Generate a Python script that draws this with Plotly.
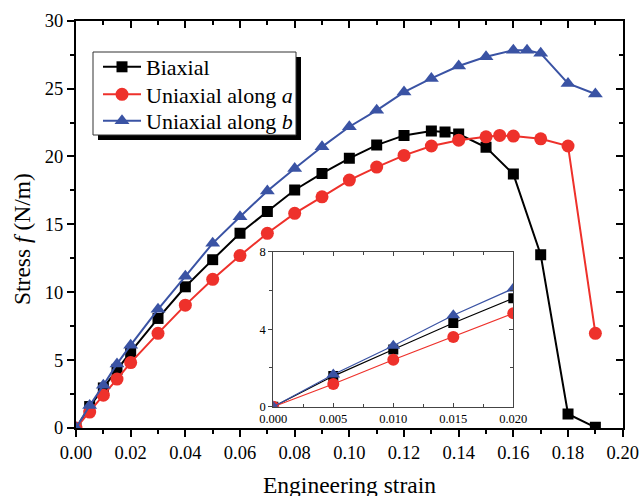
import plotly.graph_objects as go

# ---- data ----
bi_x = [0, 0.005, 0.01, 0.015, 0.02, 0.03, 0.04, 0.05, 0.06, 0.07, 0.08, 0.09, 0.10,
        0.11, 0.12, 0.13, 0.135, 0.14, 0.15, 0.16, 0.17, 0.18, 0.19]
bi_y = [0, 1.58, 2.95, 4.32, 5.6, 8.07, 10.4, 12.4, 14.34, 15.95, 17.53, 18.75, 19.86,
        20.84, 21.55, 21.87, 21.8, 21.65, 20.67, 18.7, 12.76, 1.03, 0.05]

ua_x = [0, 0.005, 0.01, 0.015, 0.02, 0.03, 0.04, 0.05, 0.06, 0.07, 0.08, 0.09, 0.10,
        0.11, 0.12, 0.13, 0.14, 0.15, 0.155, 0.16, 0.17, 0.18, 0.19]
ua_y = [0, 1.17, 2.42, 3.6, 4.82, 6.97, 9.05, 10.95, 12.7, 14.34, 15.81, 17.03, 18.26,
        19.22, 20.08, 20.77, 21.2, 21.45, 21.55, 21.5, 21.3, 20.77, 6.97]

ub_x = [0, 0.005, 0.01, 0.015, 0.02, 0.03, 0.04, 0.05, 0.06, 0.07, 0.08, 0.09, 0.10,
        0.11, 0.12, 0.13, 0.14, 0.15, 0.16, 0.165, 0.17, 0.18, 0.19]
ub_y = [0, 1.66, 3.15, 4.72, 6.1, 8.74, 11.17, 13.6, 15.56, 17.45, 19.12, 20.71, 22.19,
        23.4, 24.74, 25.75, 26.66, 27.35, 27.83, 27.83, 27.6, 25.38, 24.6]

names = ["Biaxial", "Uniaxial along <i>a</i>", "Uniaxial along <i>b</i>"]
colors = ["#000000", "#EE312B", "#3A53A4"]
symbols = ["square", "circle", "triangle-up"]
series = [(bi_x, bi_y), (ua_x, ua_y), (ub_x, ub_y)]
main_sizes = [11, 13, 13]
inset_sizes = [10, 12, 12]
inset_max = 0.02

x_title = "Engineering strain"
y_title = "Stress <i>f</i> (N/m)"

FONT = "Liberation Serif"
W, H = 641, 496

legend_ids = ["legend", "legend2", "legend3"]
legend_rows = [67, 94.5, 121]

fig = go.Figure()
for (xs, ys), nm, c, s, ms, lg in zip(series, names, colors, symbols, main_sizes, legend_ids):
    fig.add_trace(go.Scatter(x=xs, y=ys, name=nm, mode="lines+markers",
                             line=dict(color=c, width=2),
                             marker=dict(symbol=s, size=ms, color=c),
                             xaxis="x", yaxis="y", legend=lg))
for (xs, ys), nm, c, s, ms in zip(series, names, colors, symbols, inset_sizes):
    xi = [x for x in xs if x <= inset_max]
    yi = [y for x, y in zip(xs, ys) if x <= inset_max]
    fig.add_trace(go.Scatter(x=xi, y=yi, name=nm, mode="lines+markers", showlegend=False,
                             line=dict(color=c, width=1.2),
                             marker=dict(symbol=s, size=ms, color=c),
                             xaxis="x2", yaxis="y2"))
# dummy traces so mirror axes are drawn
fig.add_trace(go.Scatter(x=[None], y=[None], xaxis="x3", yaxis="y3", showlegend=False, hoverinfo="skip"))
fig.add_trace(go.Scatter(x=[None], y=[None], xaxis="x2", yaxis="y4", showlegend=False, hoverinfo="skip"))

L, R, T, B = 76, 622.7, 20.7, 428
xd = [L / W, R / W]
yd = [1 - B / H, 1 - T / H]
IL, IR, IT, IB = 273.3, 513.3, 251.7, 406.7
ixd = [IL / W, IR / W]
iyd = [1 - IB / H, 1 - IT / H]

tickfont = dict(family=FONT, size=18.5, color="black")
ifont = dict(family=FONT, size=12.5, color="black")

common = dict(showgrid=False, zeroline=False, showline=True, automargin=False)

legfont = dict(family=FONT, size=22, color="black")
legends = {}
for lg, row in zip(legend_ids, legend_rows):
    legends[lg] = dict(x=98 / W, y=1 - row / H, xanchor="left", yanchor="middle",
                       bgcolor="rgba(0,0,0,0)", borderwidth=0, font=legfont, itemwidth=38)

fig.update_layout(
    width=W, height=H, margin=dict(l=0, r=0, t=0, b=0, autoexpand=False),
    paper_bgcolor="white", plot_bgcolor="white",
    font=dict(family=FONT, color="black"),
    xaxis=dict(domain=xd, anchor="y", range=[0, 0.2], dtick=0.02, tick0=0, tickformat=".2f",
               linecolor="black", linewidth=2,
               ticks="outside", ticklen=7, tickwidth=2, tickcolor="black", tickfont=tickfont,
               minor=dict(dtick=0.01, ticks="outside", ticklen=4, tickwidth=2, tickcolor="black"), **common),
    yaxis=dict(domain=yd, anchor="x", range=[0, 30], dtick=5, tick0=0,
               linecolor="black", linewidth=2,
               ticks="outside", ticklen=7, tickwidth=2, tickcolor="black", tickfont=tickfont,
               minor=dict(dtick=2.5, ticks="outside", ticklen=4, tickwidth=2, tickcolor="black"), **common),
    xaxis3=dict(overlaying="x", side="top", anchor="y3", range=[0, 0.2], dtick=0.02, tick0=0,
                showticklabels=False,
                linecolor="black", linewidth=2, ticks="inside", ticklen=7, tickwidth=2, tickcolor="black",
                minor=dict(dtick=0.01, ticks="inside", ticklen=4, tickwidth=2, tickcolor="black"), **common),
    yaxis3=dict(overlaying="y", side="right", anchor="x3", range=[0, 30], dtick=5, tick0=0,
                showticklabels=False,
                linecolor="black", linewidth=2, ticks="inside", ticklen=7, tickwidth=2, tickcolor="black",
                minor=dict(dtick=2.5, ticks="inside", ticklen=4, tickwidth=2, tickcolor="black"), **common),
    xaxis2=dict(domain=ixd, anchor="y2", range=[0, 0.02], dtick=0.005, tick0=0, tickformat=".3f",
                mirror="ticks", linecolor="#444", linewidth=1,
                ticks="inside", ticklen=4, tickwidth=1, tickcolor="#444", tickfont=ifont,
                minor=dict(dtick=0.0025, ticks="inside", ticklen=3, tickwidth=1, tickcolor="#444"), **common),
    yaxis2=dict(domain=iyd, anchor="x2", range=[0, 8], dtick=4, tick0=0,
                linecolor="#444", linewidth=1,
                ticks="outside", ticklen=4, tickwidth=1, tickcolor="#444", tickfont=ifont,
                minor=dict(dtick=2, ticks="outside", ticklen=3, tickwidth=1, tickcolor="#444"), **common),
    yaxis4=dict(overlaying="y2", side="right", anchor="x2", range=[0, 8], dtick=4, tick0=0,
                showticklabels=False,
                linecolor="#444", linewidth=1, ticks="inside", ticklen=4, tickwidth=1, tickcolor="#444",
                minor=dict(dtick=2, ticks="inside", ticklen=3, tickwidth=1, tickcolor="#444"), **common),
    showlegend=True,
    shapes=[
        dict(type="rect", xref="paper", yref="paper", layer="above",
             x0=98 / W, x1=301 / W, y0=1 - 140 / H, y1=1 - 57 / H,
             fillcolor="black", line=dict(width=0)),
        dict(type="rect", xref="paper", yref="paper", layer="above",
             x0=93 / W, x1=296 / W, y0=1 - 135 / H, y1=1 - 52 / H,
             fillcolor="white", line=dict(color="#333", width=1)),
    ],
    annotations=[
        dict(text=x_title, xref="paper", yref="paper", x=349 / W, y=1 - 485 / H,
             xanchor="center", yanchor="middle", showarrow=False,
             font=dict(family=FONT, size=23.5, color="black")),
        dict(text=y_title, xref="paper", yref="paper", x=22 / W, y=1 - 239 / H,
             xanchor="center", yanchor="middle", showarrow=False, textangle=-90,
             font=dict(family=FONT, size=23.5, color="black")),
    ],
    **legends,
)

fig.write_html("out.html")
